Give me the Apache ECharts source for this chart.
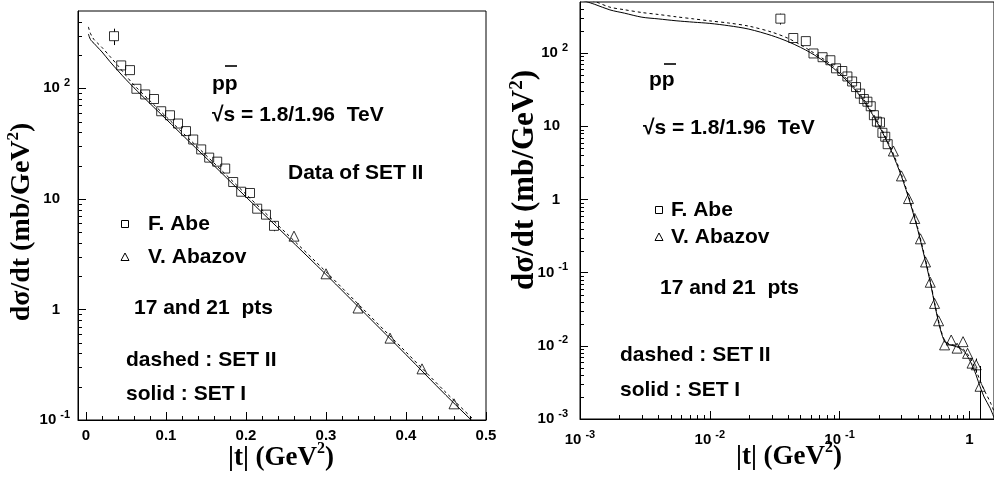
<!DOCTYPE html>
<html>
<head>
<meta charset="utf-8">
<script src="https://cdn.jsdelivr.net/npm/echarts@6/dist/echarts.min.js"></script>
<style>
  html, body { margin: 0; padding: 0; background: #fff; }
  #chart { width: 994px; height: 487px; }
</style>
</head>
<body>
<div id="chart"></div>
<script>
// Model curves: |t| grid (GeV^2) and dσ/dt (mb/GeV^2) for the two parameter sets
const tCurve = [0.001, 0.0013, 0.0017, 0.0022, 0.003, 0.004, 0.0055, 0.0075, 0.01, 0.014,
  0.02, 0.03, 0.04, 0.05, 0.06, 0.08, 0.1, 0.13, 0.16, 0.2, 0.25, 0.3, 0.35, 0.4, 0.45,
  0.5, 0.55, 0.6, 0.65, 0.7, 0.8, 0.9, 1.0, 1.1, 1.2, 1.3, 1.45, 1.6];
const setISolid = [540, 464, 390, 352, 310, 294, 277, 265, 255, 237,
  213, 174, 144, 120, 101, 72.8, 52.7, 32.4, 20.0, 10.4, 4.65, 2.07, 0.90, 0.39, 0.167,
  0.074, 0.032, 0.0165, 0.0112, 0.0104, 0.0097, 0.0086, 0.0065, 0.0045, 0.0029, 0.0020, 0.0014, 0.0009];
const setIIDashed = [600, 510, 425, 392, 359, 338, 314, 294, 276, 258,
  234, 194, 160, 130, 107, 77, 55.5, 34.2, 21.1, 11.0, 4.92, 2.19, 0.95, 0.412, 0.177,
  0.078, 0.0335, 0.0172, 0.0116, 0.0107, 0.0099, 0.0090, 0.0071, 0.0051, 0.0035, 0.0025, 0.0017, 0.0011];

// F. Abe, 1.8 TeV
const abeT = [0.035, 0.044, 0.055, 0.063, 0.074, 0.085, 0.094, 0.105, 0.115, 0.125, 0.134,
  0.144, 0.154, 0.164, 0.174, 0.184, 0.194, 0.205, 0.214, 0.225, 0.235];
const abeDs = [296, 161, 146, 99, 88, 80, 62, 57, 48, 41, 34.4,
  28, 23.6, 21.7, 18.8, 14.2, 11.6, 11.3, 8.15, 7.2, 5.7];
const abeErr = [50, 8, 7, 4, 3.5, 3, 2.4, 2.2, 1.8, 1.5, 1.3,
  1.1, 0.9, 0.8, 0.8, 0.6, 0.6, 0.6, 0.5, 0.5, 0.6];

// V. Abazov, 1.96 TeV
const abazovT = [0.26, 0.30, 0.34, 0.38, 0.42, 0.46, 0.50, 0.54, 0.58, 0.645, 0.725,
  0.805, 0.895, 0.97, 1.05, 1.13, 1.21];
const abazovDs = [4.6, 2.1, 1.03, 0.55, 0.29, 0.14, 0.074, 0.038, 0.022, 0.0103, 0.012,
  0.0093, 0.0114, 0.0079, 0.0058, 0.0055, 0.0028];
const abazovErr = [0.2, 0.08, 0.04, 0.02, 0.012, 0.006, 0.003, 0.0016, 0.001, 0.0006, 0.0008,
  0.0008, 0.0012, 0.0010, 0.0010, 0.0012, 0.0025];

// Axis ranges
const LEFT_X = [-0.01, 0.5];
const LEFT_Y = [0.1, 500];
const RIGHT_X = [0.001, 1.55];
const RIGHT_Y = [0.001, 500];

// Minor tick values
function logMinors(lo, hi) {
  const out = [];
  for (let e = Math.floor(Math.log10(lo)); e <= Math.ceil(Math.log10(hi)); e++) {
    for (let m = 2; m <= 9; m++) {
      const v = m * Math.pow(10, e);
      if (v > lo && v < hi) out.push(v);
    }
  }
  return out;
}
const leftXMinor = [];
for (let i = 1; i < 25; i++) if (i % 5 !== 0) leftXMinor.push(+(i * 0.02).toFixed(2));
const leftYMinor = logMinors(LEFT_Y[0], LEFT_Y[1]);
const rightXMinor = logMinors(RIGHT_X[0], RIGHT_X[1]);
const rightYMinor = logMinors(RIGHT_Y[0], RIGHT_Y[1]);

const SANS = '"Liberation Sans", Arial, Helvetica, sans-serif';
const SERIF = '"Liberation Serif", "Times New Roman", serif';

function powLabelY(v) {
  const e = Math.log10(v), r = Math.round(e);
  if (Math.abs(e - r) > 1e-6) return '';
  if (r === 0) return '{m|1}{s| }';
  if (r === 1) return '{m|10}{s| }';
  return '{m|10}{e|' + r + '}';
}
function powLabelX(v) {
  const e = Math.log10(v), r = Math.round(e);
  if (Math.abs(e - r) > 1e-6) return '';
  if (r === 0) return '{m|1}';
  if (r === 1) return '{m|10}';
  return '{m|10}{e|' + r + '}';
}
const richY = (sp) => ({
  m: { fontFamily: SANS, fontWeight: 'bold', fontSize: 15, lineHeight: 22, color: '#000' },
  e: { fontFamily: SANS, fontWeight: 'bold', fontSize: 11, lineHeight: 10, verticalAlign: 'top', padding: [0, 0, 0, 4], color: '#000' },
  s: { width: sp, fontSize: 13 }
});
const richX = {
  m: { fontFamily: SANS, fontWeight: 'bold', fontSize: 15, lineHeight: 22, color: '#000' },
  e: { fontFamily: SANS, fontWeight: 'bold', fontSize: 11, lineHeight: 4, verticalAlign: 'top', padding: [0, 0, 0, 4], color: '#000' }
};

function tickSeries(xi, yi, values, dir, anchor, len) {
  return {
    type: 'custom', xAxisIndex: xi, yAxisIndex: yi, silent: true, z: 6,
    data: values.map(v => dir === 'y' ? [anchor, v] : [v, anchor]),
    renderItem(params, api) {
      const cs = params.coordSys;
      const p = api.coord([api.value(0), api.value(1)]);
      if (dir === 'y') {
        const y = Math.round(p[1]) + 0.5;
        return { type: 'line', shape: { x1: cs.x, y1: y, x2: cs.x + len, y2: y }, style: { stroke: '#000', lineWidth: 1 } };
      }
      const x = Math.round(p[0]) + 0.5;
      const yb = cs.y + cs.height;
      return { type: 'line', shape: { x1: x, y1: yb, x2: x, y2: yb - len }, style: { stroke: '#000', lineWidth: 1 } };
    }
  };
}

function errorSeries(xi, yi, ts, ys, errs, yRange) {
  return {
    type: 'custom', xAxisIndex: xi, yAxisIndex: yi, silent: true, z: 4,
    data: ts.map((t, i) => [t, ys[i], errs[i]]),
    renderItem(params, api) {
      const t = api.value(0), y = api.value(1), er = api.value(2);
      const hi = Math.min(y + er, yRange[1]);
      const lo = Math.max(y - er, yRange[0]);
      const pc = api.coord([t, y]);
      const ph = api.coord([t, hi]);
      const pl = api.coord([t, lo]);
      const x = Math.round(pc[0]) + 0.5;
      const gap = 4.5;
      const children = [];
      if (pc[1] - gap > ph[1]) children.push({ type: 'line', shape: { x1: x, y1: ph[1], x2: x, y2: pc[1] - gap }, style: { stroke: '#000', lineWidth: 1 } });
      if (pl[1] > pc[1] + gap) children.push({ type: 'line', shape: { x1: x, y1: pc[1] + gap, x2: x, y2: pl[1] }, style: { stroke: '#000', lineWidth: 1 } });
      return { type: 'group', children };
    }
  };
}

function pairs(xs, ys, minX) {
  const out = [];
  xs.forEach((x, i) => { if (minX === undefined || x >= minX) out.push([x, ys[i]]); });
  return out;
}

function curve(xi, yi, ys, dashed, minX) {
  return {
    type: 'line', xAxisIndex: xi, yAxisIndex: yi, data: pairs(tCurve, ys, minX),
    showSymbol: false, smooth: 0.3, clip: true, silent: true, z: 3,
    lineStyle: { color: '#000', width: 1, type: dashed ? [3, 3] : 'solid' }
  };
}

function points(xi, yi, name, ts, ys, symbol, size) {
  return {
    type: 'scatter', name, xAxisIndex: xi, yAxisIndex: yi, data: pairs(ts, ys),
    symbol, symbolSize: size, silent: true, z: 5,
    itemStyle: { color: 'rgba(0,0,0,0)', borderColor: '#000', borderWidth: 1 }
  };
}

const txt = (x, y, text, size) => ({
  type: 'text', x, y, silent: true, z: 10,
  style: { text, fill: '#000', font: 'bold ' + (size || 21) + 'px ' + SANS, textAlign: 'left', textVerticalAlign: 'middle', align: 'left', verticalAlign: 'middle' }
});
const squareIcon = (cx, cy) => ({ type: 'rect', silent: true, z: 10, shape: { x: cx - 3.5, y: cy - 3.5, width: 7, height: 7 }, style: { fill: 'none', stroke: '#000', lineWidth: 1 } });
const triIcon = (cx, cy) => ({ type: 'polygon', silent: true, z: 10, shape: { points: [[cx - 4, cy + 3.5], [cx + 4, cy + 3.5], [cx, cy - 4]] }, style: { fill: 'none', stroke: '#000', lineWidth: 1 } });
const bar = (x1, x2, y) => ({ type: 'line', silent: true, z: 10, shape: { x1, y1: y, x2, y2: y }, style: { stroke: '#000', lineWidth: 1.6 } });

const titleRich = (size) => ({
  a: { fontFamily: SERIF, fontWeight: 'bold', fontSize: size, lineHeight: 34, color: '#000' },
  s: { fontFamily: SERIF, fontWeight: 'bold', fontSize: Math.round(size * 0.6), lineHeight: 4, verticalAlign: 'top', color: '#000' }
});
const title = (x, y, text, size, rot) => ({
  type: 'text', x, y, rotation: rot || 0, silent: true, z: 10,
  style: { text, rich: titleRich(size), textAlign: 'center', textVerticalAlign: 'middle', align: 'center', verticalAlign: 'middle' }
});

const axisBase = {
  axisLine: { show: true, onZero: false, lineStyle: { color: '#000', width: 1 } },
  axisTick: { show: true, inside: true, length: 8, lineStyle: { color: '#000', width: 1 } },
  splitLine: { show: false },
  minorTick: { show: false }
};

const option = {
  animation: false,
  backgroundColor: '#fff',
  grid: [
    { left: 78, top: 11, width: 408, height: 409, show: true, borderColor: '#000', borderWidth: 1, containLabel: false },
    { left: 580, top: 2, right: -4, height: 417, show: true, borderColor: '#000', borderWidth: 1, containLabel: false }
  ],
  xAxis: [
    Object.assign({}, axisBase, {
      type: 'value', gridIndex: 0, min: LEFT_X[0], max: LEFT_X[1], splitNumber: 5,
      axisLabel: {
        margin: 8, fontFamily: SANS, fontWeight: 'bold', fontSize: 15, color: '#000',
        formatter: v => (v >= 0 && Math.abs(v * 10 - Math.round(v * 10)) < 1e-6) ? String(+v.toFixed(1)) : ''
      }
    }),
    Object.assign({}, axisBase, {
      type: 'log', logBase: 10, gridIndex: 1, min: RIGHT_X[0], max: RIGHT_X[1],
      axisLabel: { margin: 10, formatter: powLabelX, rich: richX, showMaxLabel: false }
    })
  ],
  yAxis: [
    Object.assign({}, axisBase, {
      type: 'log', logBase: 10, gridIndex: 0, min: LEFT_Y[0], max: LEFT_Y[1],
      axisLabel: { margin: 8, formatter: powLabelY, rich: richY(10), align: 'right', showMaxLabel: false }
    }),
    Object.assign({}, axisBase, {
      type: 'log', logBase: 10, gridIndex: 1, min: RIGHT_Y[0], max: RIGHT_Y[1],
      axisLabel: { margin: 12, formatter: powLabelY, rich: richY(8), align: 'right', showMaxLabel: false }
    })
  ],
  series: [
    // left panel: linear |t|
    curve(0, 0, setISolid, false, 0.003),
    curve(0, 0, setIIDashed, true, 0.003),
    errorSeries(0, 0, abeT, abeDs, abeErr, LEFT_Y),
    errorSeries(0, 0, abazovT, abazovDs, abazovErr, LEFT_Y),
    points(0, 0, 'F. Abe', abeT, abeDs, 'rect', 9),
    points(0, 0, 'V. Abazov', abazovT, abazovDs, 'triangle', 10),
    tickSeries(0, 0, leftXMinor, 'x', LEFT_Y[0], 4),
    tickSeries(0, 0, leftYMinor, 'y', LEFT_X[0], 4),
    // right panel: logarithmic |t|
    curve(1, 1, setISolid, false),
    curve(1, 1, setIIDashed, true),
    errorSeries(1, 1, abeT, abeDs, abeErr, RIGHT_Y),
    errorSeries(1, 1, abazovT, abazovDs, abazovErr, RIGHT_Y),
    points(1, 1, 'F. Abe', abeT, abeDs, 'rect', 9),
    points(1, 1, 'V. Abazov', abazovT, abazovDs, 'triangle', 10),
    tickSeries(1, 1, rightXMinor, 'x', RIGHT_Y[0], 4),
    tickSeries(1, 1, rightYMinor, 'y', RIGHT_X[0], 4)
  ],
  graphic: [
    // left panel annotations
    txt(212, 84, 'pp'), bar(225, 237, 66),
    txt(212, 115, '\u221As = 1.8/1.96  TeV'),
    txt(288, 173, 'Data of SET II'),
    squareIcon(125, 224), txt(148, 224, 'F. Abe'),
    triIcon(125, 257), txt(148, 257, 'V. Abazov'),
    txt(134, 308, '17 and 21  pts'),
    txt(126, 360, 'dashed : SET II'),
    txt(126, 394, 'solid : SET I'),
    title(22, 222, '{a|d\u03C3/dt (mb/GeV}{s|2}{a|)}', 28, Math.PI / 2),
    title(281, 458, '{a||t| (GeV}{s|2}{a|)}', 27),
    // right panel annotations
    txt(649, 80, 'pp'), bar(664, 676, 64),
    txt(643, 128, '\u221As = 1.8/1.96  TeV'),
    squareIcon(659, 210), txt(671, 210, 'F. Abe'),
    triIcon(659, 237), txt(671, 237, 'V. Abazov'),
    txt(660, 288, '17 and 21  pts'),
    txt(620, 355, 'dashed : SET II'),
    txt(620, 390, 'solid : SET I'),
    title(525, 180, '{a|d\u03C3/dt (mb/GeV}{s|2}{a|)}', 31, Math.PI / 2),
    title(789, 457, '{a||t| (GeV}{s|2}{a|)}', 27)
  ]
};

const chart = echarts.init(document.getElementById('chart'), null, { renderer: 'canvas' });
chart.setOption(option);
</script>
</body>
</html>
